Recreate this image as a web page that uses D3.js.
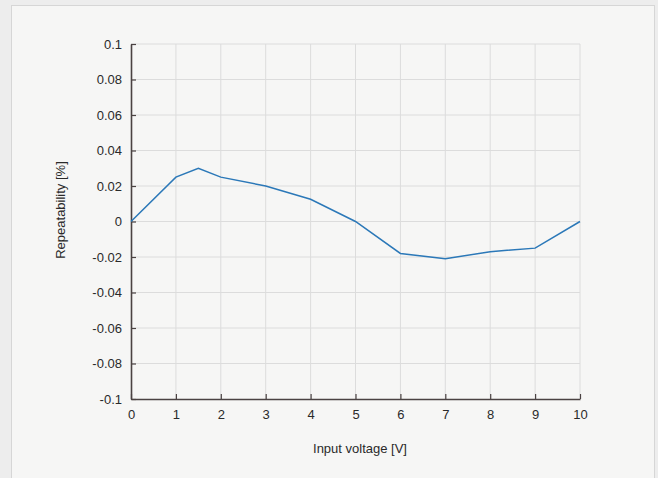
<!DOCTYPE html>
<html>
<head>
<meta charset="utf-8">
<script src="https://cdn.jsdelivr.net/npm/d3@7"></script>
<style>
  body { margin: 0; background: #ececec; }
  svg { display: block; font-family: "Liberation Sans", Arial, sans-serif; }
</style>
</head>
<body>
<svg id="chart" width="658" height="478"></svg>
<script>
// measured data
var voltage = [0, 1, 1.5, 2, 3, 4, 5, 6, 7, 8, 9, 10];
var repeatability = [0, 0.025, 0.030, 0.025, 0.020, 0.0125, 0, -0.018, -0.021, -0.017, -0.015, 0];
var xTicks = [0, 1, 2, 3, 4, 5, 6, 7, 8, 9, 10];
var yTicks = [-0.1, -0.08, -0.06, -0.04, -0.02, 0, 0.02, 0.04, 0.06, 0.08, 0.1];

var svg = d3.select("#chart");
var margin = {top: 44, left: 131, right: 78, bottom: 79};
var width = 658 - margin.left - margin.right;
var height = 478 - margin.top - margin.bottom;

// panel behind the chart
svg.append("rect").attr("width", 658).attr("height", 478).attr("fill", "#ededed");
svg.append("rect")
    .attr("x", 11.5).attr("y", 5.5)
    .attr("width", 643).attr("height", 480)
    .attr("fill", "#f6f6f5")
    .attr("stroke", "#d6d6d6");

var g = svg.append("g").attr("transform", "translate(" + margin.left + "," + margin.top + ")");

var x = d3.scaleLinear().domain([0, 10]).range([0, width]);
var y = d3.scaleLinear().domain([-0.1, 0.1]).range([height, 0]);

// grid
g.append("g").selectAll("line")
    .data(xTicks.slice(1))
    .enter().append("line")
    .attr("x1", function(d){ return x(d); })
    .attr("x2", function(d){ return x(d); })
    .attr("y1", 0).attr("y2", height)
    .attr("stroke", "#dcdcdc").attr("stroke-width", 1);

g.append("g").selectAll("line")
    .data(yTicks.slice(1))
    .enter().append("line")
    .attr("x1", 0).attr("x2", width)
    .attr("y1", function(d){ return y(d); })
    .attr("y2", function(d){ return y(d); })
    .attr("stroke", "#dcdcdc").attr("stroke-width", 1);

// axes
var xAxis = g.append("g")
    .attr("transform", "translate(0," + height + ")")
    .call(d3.axisBottom(x).tickValues(xTicks).tickSizeInner(-5).tickSizeOuter(0).tickPadding(11).tickFormat(d3.format("d")));

var yAxis = g.append("g")
    .call(d3.axisLeft(y).tickValues(yTicks).tickSizeInner(-5).tickSizeOuter(0).tickPadding(9).tickFormat(function(d){
        return Math.abs(d) < 1e-9 ? "0" : String(+d.toFixed(2));
    }));

[xAxis, yAxis].forEach(function(a){
    a.select(".domain").attr("stroke", "#4a4242").attr("stroke-width", 1.6);
    a.selectAll(".tick line").attr("stroke", "#4a4242").attr("stroke-width", 1.2);
    a.selectAll(".tick text").attr("fill", "#2a2a2a").style("font-size", "13px");
});

// line
g.append("path")
    .datum(voltage.map(function(v, i){ return [v, repeatability[i]]; }))
    .attr("fill", "none")
    .attr("stroke", "#2b78b8")
    .attr("stroke-width", 1.5)
    .attr("d", d3.line().x(function(d){ return x(d[0]); }).y(function(d){ return y(d[1]); }));

// labels
svg.append("text")
    .attr("x", 360).attr("y", 453)
    .attr("text-anchor", "middle")
    .style("font-size", "13px").attr("fill", "#2a2a2a")
    .text("Input voltage [V]");

svg.append("text")
    .attr("transform", "translate(65,210) rotate(-90)")
    .attr("text-anchor", "middle")
    .style("font-size", "13px").attr("fill", "#2a2a2a")
    .text("Repeatability [%]");
</script>
</body>
</html>
